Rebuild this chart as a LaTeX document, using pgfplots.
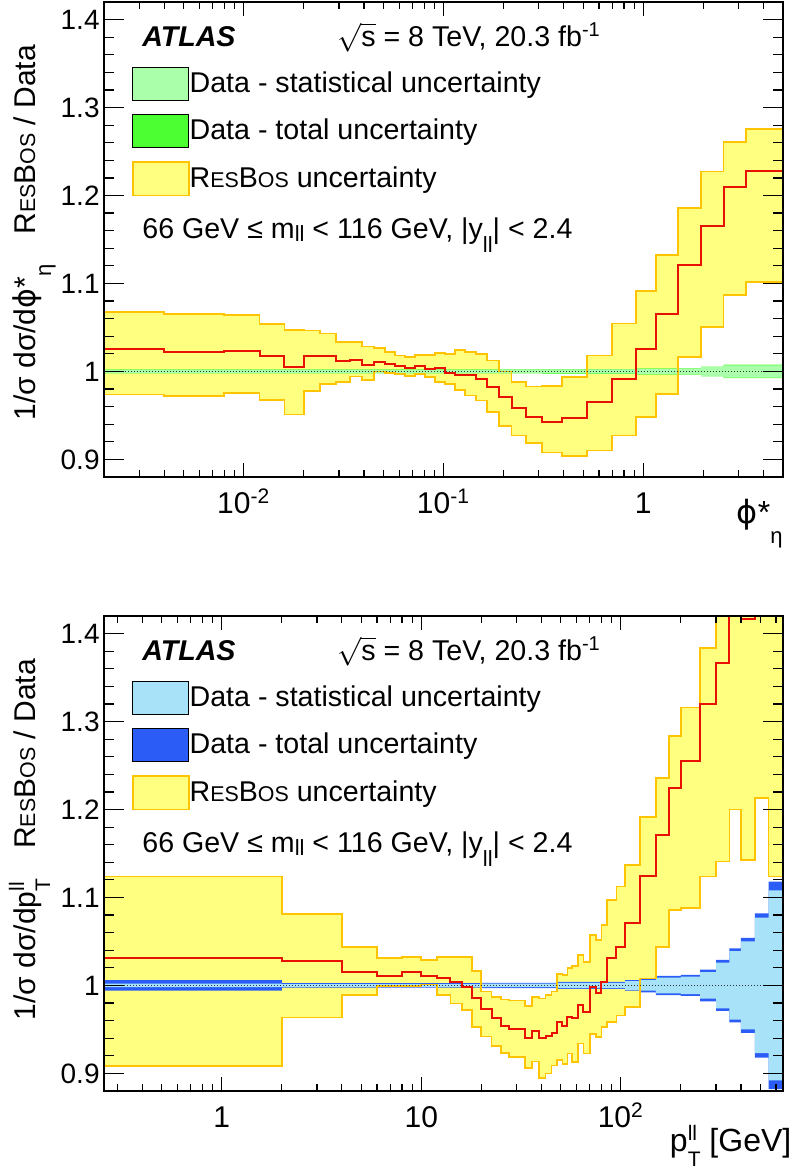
\documentclass[border=0pt]{standalone}
\usepackage{fontspec}
\setmainfont{Liberation Sans}
\newfontfamily\dejavu{DejaVu Sans}
\usepackage{pgfplots}
\pgfplotsset{compat=1.18}
\usepackage{pgfplotstable}
\usepgfplotslibrary{fillbetween}

\definecolor{yel}{HTML}{FFFF80}
\definecolor{orng}{HTML}{FFC400}
\definecolor{rline}{HTML}{E81000}
\definecolor{lgreen}{HTML}{AAFFAA}
\definecolor{dgreen}{HTML}{4CFF33}
\definecolor{lblue}{HTML}{A8E2F8}
\definecolor{dblue}{HTML}{2B5CF5}

\newcommand{\sz}[1]{\fontsize{#1}{#1}\selectfont}
\newcommand{\rb}{R{\sz{10.7pt}ES}B{\sz{10.7pt}OS}}
\newcommand{\phis}{{\dejavu ϕ}*}

% phi*_eta binning: left edge, central, ResBos up/low, data stat up/low, data total up/low
\pgfplotstableread{
x c up lo su sl tu tl
0.001 1.0256 1.0676 0.9738 1.0018 0.9982 1.0023 0.9977
0.004 1.0219 1.0650 0.9720 1.0018 0.9982 1.0023 0.9977
0.008 1.0230 1.0640 0.9753 1.0018 0.9982 1.0023 0.9977
0.012 1.0173 1.0536 0.9677 1.0018 0.9982 1.0023 0.9977
0.016 1.0045 1.0475 0.9510 1.0018 0.9982 1.0023 0.9977
0.020 1.0170 1.0467 0.9780 1.0018 0.9982 1.0023 0.9977
0.024 1.0170 1.0430 0.9860 1.0018 0.9982 1.0023 0.9977
0.029 1.0113 1.0334 0.9878 1.0018 0.9982 1.0023 0.9977
0.034 1.0132 1.0334 0.9943 1.0018 0.9982 1.0023 0.9977
0.039 1.0075 1.0285 0.9905 1.0018 0.9982 1.0023 0.9977
0.045 1.0110 1.0270 1.0000 1.0018 0.9982 1.0023 0.9977
0.051 1.0083 1.0220 0.9985 1.0018 0.9982 1.0023 0.9977
0.057 1.0060 1.0180 0.9973 1.0018 0.9982 1.0023 0.9977
0.064 1.0034 1.0163 0.9950 1.0018 0.9982 1.0023 0.9977
0.072 1.0060 1.0190 0.9973 1.0018 0.9982 1.0023 0.9977
0.081 1.0026 1.0190 0.9935 1.0018 0.9982 1.0023 0.9977
0.091 1.0034 1.0210 0.9880 1.0018 0.9982 1.0023 0.9977
0.102 0.9980 1.0200 0.9860 1.0018 0.9982 1.0023 0.9977
0.114 0.9954 1.0240 0.9790 1.0018 0.9982 1.0023 0.9977
0.128 0.9954 1.0220 0.9726 1.0018 0.9982 1.0023 0.9977
0.145 0.9916 1.0200 0.9670 1.0018 0.9982 1.0023 0.9977
0.165 0.9820 1.0125 0.9536 1.0018 0.9982 1.0023 0.9977
0.189 0.9707 1.0000 0.9380 1.0018 0.9982 1.0023 0.9977
0.219 0.9580 0.9878 0.9270 1.0018 0.9982 1.0023 0.9977
0.258 0.9487 0.9830 0.9190 1.0018 0.9982 1.0023 0.9977
0.312 0.9430 0.9837 0.9080 1.0022 0.9978 1.0027 0.9973
0.391 0.9472 0.9935 0.9040 1.0022 0.9978 1.0027 0.9973
0.524 0.9650 1.0182 0.9100 1.0022 0.9978 1.0027 0.9973
0.695 0.9916 1.0544 0.9270 1.0022 0.9978 1.0027 0.9973
0.918 1.0258 1.0912 0.9480 1.0030 0.9970 1.0035 0.9965
1.153 1.0658 1.1323 0.9740 1.0030 0.9970 1.0035 0.9965
1.496 1.1209 1.1855 1.0163 1.0030 0.9970 1.0035 0.9965
1.947 1.1653 1.2273 1.0505 1.0050 0.9950 1.0055 0.9945
2.522 1.2102 1.2607 1.0867 1.0070 0.9930 1.0077 0.9923
3.277 1.2280 1.2760 1.1020 1.0070 0.9930 1.0077 0.9923
5.000 1.2280 1.2760 1.1020 1.0070 0.9930 1.0077 0.9923
}\phitab

% pT binning
\pgfplotstableread{
x c up lo su sl tu tl
0.1 1.0317 1.1238 0.9083 1.0020 0.9980 1.0060 0.9940
2 1.0275 1.0810 0.9635 1.0015 0.9985 1.0025 0.9975
4 1.0155 1.0440 0.9890 1.0015 0.9985 1.0025 0.9975
6 1.0113 1.0310 0.9990 1.0015 0.9985 1.0025 0.9975
8 1.0155 1.0320 0.9990 1.0015 0.9985 1.0025 0.9975
10 1.0113 1.0289 1.0010 1.0015 0.9985 1.0025 0.9975
12 1.0083 1.0320 0.9890 1.0015 0.9985 1.0025 0.9975
14 1.0034 1.0320 0.9796 1.0015 0.9985 1.0025 0.9975
16 0.9980 1.0320 0.9720 1.0015 0.9985 1.0025 0.9975
18 0.9860 1.0166 0.9530 1.0015 0.9985 1.0025 0.9975
20 0.9730 0.9930 0.9420 1.0020 0.9980 1.0030 0.9970
22.5 0.9626 0.9870 0.9310 1.0020 0.9980 1.0030 0.9970
25 0.9540 0.9840 0.9230 1.0020 0.9980 1.0030 0.9970
27.5 0.9500 0.9830 0.9190 1.0020 0.9980 1.0030 0.9970
30 0.9500 0.9830 0.9190 1.0020 0.9980 1.0030 0.9970
33 0.9400 0.9770 0.9060 1.0020 0.9980 1.0030 0.9970
36 0.9487 0.9870 0.9136 1.0020 0.9980 1.0030 0.9970
39 0.9400 0.9850 0.8950 1.0020 0.9980 1.0030 0.9970
42 0.9420 0.9890 0.9000 1.0020 0.9980 1.0030 0.9970
45 0.9457 0.9930 0.9090 1.0020 0.9980 1.0030 0.9970
48 0.9586 1.0130 0.9150 1.0030 0.9970 1.0040 0.9960
51 0.9536 1.0120 0.9110 1.0030 0.9970 1.0040 0.9960
54 0.9643 1.0200 0.9225 1.0030 0.9970 1.0040 0.9960
57 0.9630 1.0220 0.9130 1.0030 0.9970 1.0040 0.9960
61 0.9776 1.0346 0.9340 1.0030 0.9970 1.0040 0.9960
65 0.9700 1.0270 0.9225 1.0030 0.9970 1.0040 0.9960
70 0.9985 1.0574 0.9450 1.0030 0.9970 1.0040 0.9960
75 0.9909 1.0517 0.9415 1.0030 0.9970 1.0040 0.9960
80 1.0040 1.0688 0.9530 1.0030 0.9970 1.0040 0.9960
85 1.0310 1.0970 0.9586 1.0030 0.9970 1.0040 0.9960
95 1.0440 1.1125 0.9660 1.0030 0.9970 1.0040 0.9960
105 1.0707 1.1370 0.9757 1.0050 0.9950 1.0060 0.9940
125 1.1245 1.1916 1.0080 1.0060 0.9940 1.0080 0.9920
150 1.1710 1.2360 1.0440 1.0090 0.9910 1.0110 0.9890
175 1.2246 1.2835 1.0860 1.0090 0.9910 1.0110 0.9890
200 1.2550 1.3160 1.0880 1.0100 0.9900 1.0120 0.9880
250 1.3196 1.3840 1.1240 1.0150 0.9850 1.0180 0.9820
300 1.3670 1.4500 1.1410 1.0260 0.9740 1.0290 0.9710
350 1.4500 1.4500 1.2000 1.0390 0.9610 1.0420 0.9580
400 1.4170 1.4500 1.1430 1.0500 0.9500 1.0540 0.9460
470 1.4500 1.4500 1.2130 1.0770 0.9230 1.0820 0.9180
550 1.4500 1.4500 1.1240 1.1080 0.8920 1.1180 0.8820
650 1.4500 1.4500 1.1240 1.1080 0.8920 1.1180 0.8820
}\pttab

\begin{document}
\begin{tikzpicture}

% ---------------- top panel: phi*_eta ----------------
\begin{axis}[
  at={(52pt,349.5pt)}, anchor=south west,
  scale only axis, width=339.5pt, height=237.5pt,
  xmode=log, ymin=0.88, ymax=1.42,
  xmin=0.002, xmax=5,
  ytick={0.9,1,1.1,1.2,1.3,1.4},
  yticklabels={0.9,1,1.1,1.2,1.3,1.4},
  minor ytick={0.88,0.92,0.94,0.96,0.98,1.02,1.04,1.06,1.08,1.12,1.14,1.16,1.18,1.22,1.24,1.26,1.28,1.32,1.34,1.36,1.38,1.42},
  xtick={0.01,0.1,1},
  xticklabels={10\textsuperscript{-2},10\textsuperscript{-1},1},
  minor xtick={0.003,0.004,0.005,0.006,0.007,0.008,0.009,0.02,0.03,0.04,0.05,0.06,0.07,0.08,0.09,0.2,0.3,0.4,0.5,0.6,0.7,0.8,0.9,2,3,4},
  tick align=inside, tick pos=both,
  major tick length=10pt, minor tick length=5pt,
  every tick/.style={black, line width=0.6pt},
  xtick style={/pgfplots/major tick length=7.2pt, /pgfplots/minor tick length=3.4pt},
  ytick style={/pgfplots/major tick length=10pt, /pgfplots/minor tick length=5pt},
  axis line style={line width=0.6pt},
  yticklabel style={font=\sz{14pt}, anchor=east, inner sep=0pt, xshift=-2pt},
  xticklabel style={font=\sz{15pt}, anchor=base, inner sep=0pt, yshift=-18.3pt},
  axis on top,
  legend image code/.code={\draw[#1] (0pt,-4.15pt) rectangle (28pt,12.5pt);},
  legend style={at={(0.0412,0.8638)}, anchor=north west, draw=none, fill=none,
    inner sep=0pt, outer sep=0pt, row sep=6.6pt, font=\sz{14.3pt},
    nodes={inner sep=0pt}, cells={anchor=base west}},
  xlabel={\phis\raisebox{-10pt}{\sz{11pt}η}},
  xlabel style={at={(1.0,-0.0975)}, anchor=base east, inner sep=0pt, font=\sz{16pt}},
  ylabel={1/σ dσ/d\phis\raisebox{-8pt}{\sz{11pt}η}\hspace{1em}\rb{} / Data},
  ylabel style={at={(-0.1016,0.91)}, anchor=base east, inner sep=0pt, font=\sz{15pt}},
]
\addplot[draw=none, const plot, forget plot, name path=RU] table[x=x,y=up]{\phitab};
\addplot[draw=none, const plot, forget plot, name path=RL] table[x=x,y=lo]{\phitab};
\addplot[fill=yel, draw=none, forget plot] fill between[of=RU and RL];
\addplot[const plot, draw=orng, line width=0.85pt, forget plot] table[x=x,y=up]{\phitab};
\addplot[const plot, draw=orng, line width=0.85pt, forget plot] table[x=x,y=lo]{\phitab};
\addplot[draw=none, const plot, forget plot, name path=TU] table[x=x,y=tu]{\phitab};
\addplot[draw=none, const plot, forget plot, name path=TL] table[x=x,y=tl]{\phitab};
\addplot[fill=dgreen, draw=none, forget plot] fill between[of=TU and TL];
\addplot[draw=none, const plot, forget plot, name path=SU] table[x=x,y=su]{\phitab};
\addplot[draw=none, const plot, forget plot, name path=SL] table[x=x,y=sl]{\phitab};
\addplot[fill=lgreen, draw=none, forget plot] fill between[of=SU and SL];
\addplot[black!80, densely dotted, line width=0.5pt, forget plot] coordinates {(0.001,1) (10,1)};
\addplot[const plot, draw=rline, line width=1pt, forget plot] table[x=x,y=c]{\phitab};
\addlegendimage{fill=lgreen, draw=none}
\addlegendentry{Data - statistical uncertainty}
\addlegendimage{fill=dgreen, draw=none}
\addlegendentry{Data - total uncertainty}
\addlegendimage{fill=yel, draw=orng, line width=0.85pt}
\addlegendentry{\rb{} uncertainty}
\node[anchor=base west, inner sep=0pt, font=\sz{14.3pt}\bfseries\itshape] at (rel axis cs:0.0559,0.9059) {ATLAS};
\node[anchor=base west, inner sep=0pt, font=\sz{14.3pt}] at (rel axis cs:0.343,0.9059) {$\sqrt{\mbox{s}}$ = 8 TeV, 20.3 fb\textsuperscript{-1}};
\node[anchor=base west, inner sep=0pt, font=\sz{14.3pt}] at (rel axis cs:0.0559,0.5025) {66 GeV ≤ m\raisebox{-1.5pt}{\sz{11pt}ll} < 116 GeV, |y\raisebox{-7pt}{\sz{11pt}ll}| < 2.4};
\end{axis}

% ---------------- bottom panel: pT ----------------
\begin{axis}[
  at={(52pt,42.5pt)}, anchor=south west,
  scale only axis, width=339.5pt, height=237.5pt,
  xmode=log, ymin=0.88, ymax=1.42,
  xmin=0.257, xmax=650,
  ytick={0.9,1,1.1,1.2,1.3,1.4},
  yticklabels={0.9,1,1.1,1.2,1.3,1.4},
  minor ytick={0.88,0.92,0.94,0.96,0.98,1.02,1.04,1.06,1.08,1.12,1.14,1.16,1.18,1.22,1.24,1.26,1.28,1.32,1.34,1.36,1.38,1.42},
  xtick={1,10,100},
  xticklabels={1,10,10\textsuperscript{2}},
  minor xtick={0.3,0.4,0.5,0.6,0.7,0.8,0.9,2,3,4,5,6,7,8,9,20,30,40,50,60,70,80,90,200,300,400,500,600},
  tick align=inside, tick pos=both,
  major tick length=10pt, minor tick length=5pt,
  every tick/.style={black, line width=0.6pt},
  xtick style={/pgfplots/major tick length=7.2pt, /pgfplots/minor tick length=3.4pt},
  ytick style={/pgfplots/major tick length=10pt, /pgfplots/minor tick length=5pt},
  axis line style={line width=0.6pt},
  yticklabel style={font=\sz{14pt}, anchor=east, inner sep=0pt, xshift=-2pt},
  xticklabel style={font=\sz{15pt}, anchor=base, inner sep=0pt, yshift=-18.3pt},
  axis on top,
  legend image code/.code={\draw[#1] (0pt,-4.15pt) rectangle (28pt,12.5pt);},
  legend style={at={(0.0412,0.8638)}, anchor=north west, draw=none, fill=none,
    inner sep=0pt, outer sep=0pt, row sep=6.6pt, font=\sz{14.3pt},
    nodes={inner sep=0pt}, cells={anchor=base west}},
  xlabel={p\rlap{\raisebox{5.5pt}{\sz{10.5pt}ll}}\raisebox{-7.5pt}{\sz{10.5pt}T} [GeV]},
  xlabel style={at={(1.0128,-0.1278)}, anchor=base east, inner sep=0pt, font=\sz{16pt}},
  ylabel={1/σ dσ/dp\rlap{\raisebox{5.5pt}{\sz{10.5pt}ll}}\raisebox{-7.5pt}{\sz{10.5pt}T}\hspace{1em}\rb{} / Data},
  ylabel style={at={(-0.1016,0.91)}, anchor=base east, inner sep=0pt, font=\sz{15pt}},
]
\addplot[draw=none, const plot, forget plot, name path=PRU] table[x=x,y=up]{\pttab};
\addplot[draw=none, const plot, forget plot, name path=PRL] table[x=x,y=lo]{\pttab};
\addplot[fill=yel, draw=none, forget plot] fill between[of=PRU and PRL];
\addplot[const plot, draw=orng, line width=0.85pt, forget plot] table[x=x,y=up]{\pttab};
\addplot[const plot, draw=orng, line width=0.85pt, forget plot] table[x=x,y=lo]{\pttab};
\addplot[draw=none, const plot, forget plot, name path=PTU] table[x=x,y=tu]{\pttab};
\addplot[draw=none, const plot, forget plot, name path=PTL] table[x=x,y=tl]{\pttab};
\addplot[fill=dblue, draw=none, forget plot] fill between[of=PTU and PTL];
\addplot[draw=none, const plot, forget plot, name path=PSU] table[x=x,y=su]{\pttab};
\addplot[draw=none, const plot, forget plot, name path=PSL] table[x=x,y=sl]{\pttab};
\addplot[fill=lblue, draw=none, forget plot] fill between[of=PSU and PSL];
\addplot[black!80, densely dotted, line width=0.5pt, forget plot] coordinates {(0.1,1) (1000,1)};
\addplot[const plot, draw=rline, line width=1pt, forget plot] table[x=x,y=c]{\pttab};
\addlegendimage{fill=lblue, draw=none}
\addlegendentry{Data - statistical uncertainty}
\addlegendimage{fill=dblue, draw=none}
\addlegendentry{Data - total uncertainty}
\addlegendimage{fill=yel, draw=orng, line width=0.85pt}
\addlegendentry{\rb{} uncertainty}
\node[anchor=base west, inner sep=0pt, font=\sz{14.3pt}\bfseries\itshape] at (rel axis cs:0.0559,0.9059) {ATLAS};
\node[anchor=base west, inner sep=0pt, font=\sz{14.3pt}] at (rel axis cs:0.343,0.9059) {$\sqrt{\mbox{s}}$ = 8 TeV, 20.3 fb\textsuperscript{-1}};
\node[anchor=base west, inner sep=0pt, font=\sz{14.3pt}] at (rel axis cs:0.0559,0.5025) {66 GeV ≤ m\raisebox{-1.5pt}{\sz{11pt}ll} < 116 GeV, |y\raisebox{-7pt}{\sz{11pt}ll}| < 2.4};
\end{axis}

\pgfresetboundingbox
\path[use as bounding box] (0,0) rectangle (398pt,588pt);
\end{tikzpicture}
\end{document}
